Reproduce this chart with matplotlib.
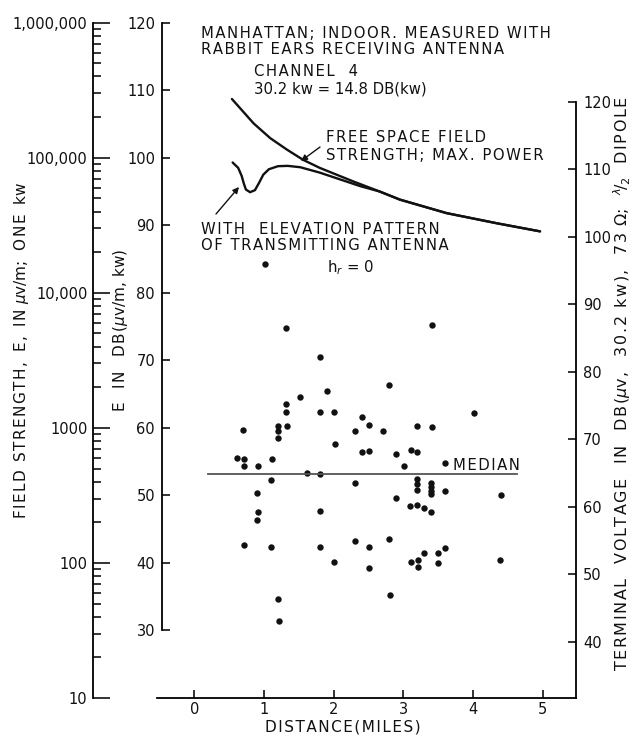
import matplotlib
matplotlib.use('Agg')
import matplotlib.pyplot as plt
from matplotlib.ticker import NullFormatter, LogLocator

W, H = 639, 739

# points mesures : distance (miles) et champ en dB(uV/m, kw)
dist = [1.01, 1.32, 1.81, 1.51, 1.91, 1.32, 1.32, 1.81, 2.01, 0.70,
        1.20, 1.20, 1.20, 1.33, 2.30, 2.02, 3.41, 2.80, 4.01, 2.41,
        2.50, 2.71, 3.20, 3.41, 0.61, 0.71, 0.71, 0.91, 1.12, 1.61,
        1.81, 1.10, 2.30, 0.90, 0.92, 1.80, 0.90, 0.71, 1.10, 1.80,
        2.30, 2.00, 1.20, 1.21, 2.40, 2.50, 2.90, 3.11, 3.19, 3.01,
        3.59, 3.20, 3.20, 3.19, 3.39, 3.39, 3.39, 3.39, 3.59, 4.40,
        2.90, 3.10, 3.20, 3.30, 3.40, 2.50, 2.80, 3.30, 3.49, 3.60,
        3.11, 3.21, 3.21, 3.49, 4.39, 2.50, 2.81]
e_db = [84.3, 74.8, 70.5, 64.6, 65.4, 63.6, 62.4, 62.4, 62.4, 59.7,
        60.3, 59.6, 58.5, 60.3, 59.5, 57.6, 75.2, 66.3, 62.2, 61.6,
        60.5, 59.6, 60.3, 60.1, 55.6, 55.4, 54.4, 54.4, 55.4, 53.3,
        53.1, 52.3, 51.8, 50.4, 47.6, 47.7, 46.4, 42.6, 42.4, 42.3,
        43.3, 40.2, 34.6, 31.4, 56.4, 56.6, 56.2, 56.7, 56.5, 54.4,
        54.8, 52.4, 51.7, 50.8, 51.8, 51.2, 50.6, 50.2, 50.6, 50.1,
        49.6, 48.5, 48.6, 48.2, 47.5, 42.3, 43.5, 41.5, 41.5, 42.2,
        40.2, 40.5, 39.4, 40.0, 40.4, 39.2, 35.2]

# champ en espace libre, puissance max
free_d = [0.54, 0.85, 1.09, 1.33, 1.56, 1.80, 2.28, 2.66, 2.95, 3.62, 4.34, 4.96]
free_db = [108.7, 105.1, 102.9, 101.2, 99.7, 98.5, 96.5, 95.0, 93.8, 91.8, 90.3, 89.1]

# avec diagramme de rayonnement vertical de l'antenne
elev_d = [0.55, 0.63, 0.68, 0.71, 0.74, 0.80, 0.87, 0.93, 0.99, 1.07, 1.20,
          1.34, 1.52, 1.80, 2.09, 2.38, 2.66, 2.95, 3.62, 4.34, 4.96]
elev_db = [99.3, 98.5, 97.3, 96.2, 95.3, 94.9, 95.2, 96.3, 97.5, 98.3, 98.75,
           98.8, 98.6, 97.8, 96.8, 95.8, 95.0, 93.8, 91.8, 90.3, 89.1]

median_db = 53.2
median_span = [0.2, 4.63]

db_ticks = [30, 40, 50, 60, 70, 80, 90, 100, 110, 120]
volt_ticks = [40, 50, 60, 70, 80, 90, 100, 110, 120]
volt_offset = 11.7
field_ticks = [10, 100, 1000, 10000, 100000, 1000000]
field_labels = ['10', '100', '1000', '10,000', '100,000', '1,000,000']
x_ticks = [0, 1, 2, 3, 4, 5]

plt.rcParams['font.family'] = 'DejaVu Sans'
plt.rcParams['font.size'] = 10.5
ink = '#111111'


def px(x, y):
    return x / W, 1 - y / H


def spread(s):
    # lettrage espace comme sur l'original
    return '\u200a'.join(s)


fig = plt.figure(figsize=(W / 100, H / 100), dpi=100)
bottom = 1 - 698 / H
top = 1 - 22.7 / H
ax = fig.add_axes([157 / W, bottom, (576 - 157) / W, top - bottom])
ax.set_xlim(-0.535, 5.476)
ax.set_ylim(20, 120)

# courbes
ax.plot(free_d, free_db, color=ink, lw=1.7, solid_capstyle='round')
ax.plot(elev_d, elev_db, color=ink, lw=1.7, solid_capstyle='round')
ax.plot(dist, e_db, 'o', color=ink, ms=4.6, mec='none')
ax.plot(median_span, [median_db, median_db], color='#555555', lw=1.3)

# axe gauche dB
ax.spines['top'].set_visible(False)
ax.spines['right'].set_visible(False)
ax.spines['left'].set_position(('data', -0.463))
ax.spines['left'].set_bounds(30, 120)
ax.spines['left'].set_linewidth(1.3)
ax.spines['bottom'].set_linewidth(1.3)
ax.set_yticks(db_ticks)
ax.tick_params(axis='y', direction='in', length=6, width=1.2, pad=5, colors=ink)
ax.set_xticks(x_ticks)
ax.tick_params(axis='x', direction='in', length=6, width=1.2, pad=3, colors=ink)

# axe droit tension
ax2 = ax.twinx()
ax2.set_ylim(20 + volt_offset, 120 + volt_offset)
for s in ['top', 'left', 'bottom']:
    ax2.spines[s].set_visible(False)
ax2.spines['right'].set_bounds(20 + volt_offset, 120)
ax2.spines['right'].set_linewidth(1.3)
ax2.set_yticks(volt_ticks)
ax2.tick_params(axis='y', direction='in', length=6, width=1.2, pad=5, colors=ink)

# axe logarithmique a gauche
ax3 = fig.add_axes([93 / W, bottom, 0.001, top - bottom])
ax3.set_yscale('log')
ax3.set_ylim(10, 1e6)
ax3.patch.set_visible(False)
for s in ['top', 'right', 'bottom']:
    ax3.spines[s].set_visible(False)
ax3.spines['left'].set_linewidth(1.3)
ax3.set_xticks([])
ax3.set_yticks(field_ticks)
ax3.set_yticklabels(field_labels)
ax3.yaxis.set_minor_locator(LogLocator(base=10, subs=range(2, 10)))
ax3.yaxis.set_minor_formatter(NullFormatter())
ax3.tick_params(axis='y', which='major', direction='in', length=12, width=1.2, pad=4, colors=ink)
ax3.tick_params(axis='y', which='minor', direction='in', length=6, width=1.1)

# titres des axes
fig.text(*px(22, 351), spread('FIELD STRENGTH,') + '  ' + spread('E,') + '  ' + spread('IN') + ' $\\mu$v/m;  '
         + spread('ONE') + '  kw', rotation=90, ha='center', va='center', color=ink, fontsize=11)
fig.text(*px(121, 330), spread('E  IN  DB(') + '$\\mu$v/m, kw)', rotation=90,
         ha='center', va='center', color=ink, fontsize=11)
right_label = (spread('TERMINAL  VOLTAGE  IN  DB(') + '$\\mu$' + spread('v,  30.2 kw),  73 ')
               + '$\\Omega$' + spread(';  ') + '$^{\\lambda}\\!/_{2}$' + spread('  DIPOLE'))
fig.text(*px(622, 384), right_label, rotation=90, ha='center', va='center', color=ink, fontsize=11.5)
fig.text(*px(343, 727), spread('DISTANCE(MILES)'), ha='center', va='center', color=ink, fontsize=11)

# annotations
notes = [
    (201, 33, spread('MANHATTAN; INDOOR. MEASURED WITH')),
    (201, 49, spread('RABBIT EARS RECEIVING ANTENNA')),
    (254, 71, spread('CHANNEL  4')),
    (254, 89, '30.2 kw = 14.8 DB(kw)'),
    (326, 138, spread('FREE SPACE FIELD')),
    (326, 156, spread('STRENGTH; MAX. POWER')),
    (201, 229, spread('WITH  ELEVATION PATTERN')),
    (201, 246, spread('OF TRANSMITTING ANTENNA')),
    (327, 268, 'h$_r$ = 0'),
    (453, 465, spread('MEDIAN')),
]
for x, y, t in notes:
    fig.text(*px(x, y), t, ha='left', va='center', color=ink, fontsize=10.7)

arrow = dict(arrowstyle='-|>', color=ink, lw=1.0, mutation_scale=9, shrinkA=0, shrinkB=0)
fig.add_artist(plt.Annotation('', xy=px(301, 161), xytext=px(320, 147),
                              xycoords='figure fraction', textcoords='figure fraction',
                              arrowprops=arrow))
fig.add_artist(plt.Annotation('', xy=px(239, 187), xytext=px(216, 214),
                              xycoords='figure fraction', textcoords='figure fraction',
                              arrowprops=arrow))

fig.savefig('out.png', dpi=100)
